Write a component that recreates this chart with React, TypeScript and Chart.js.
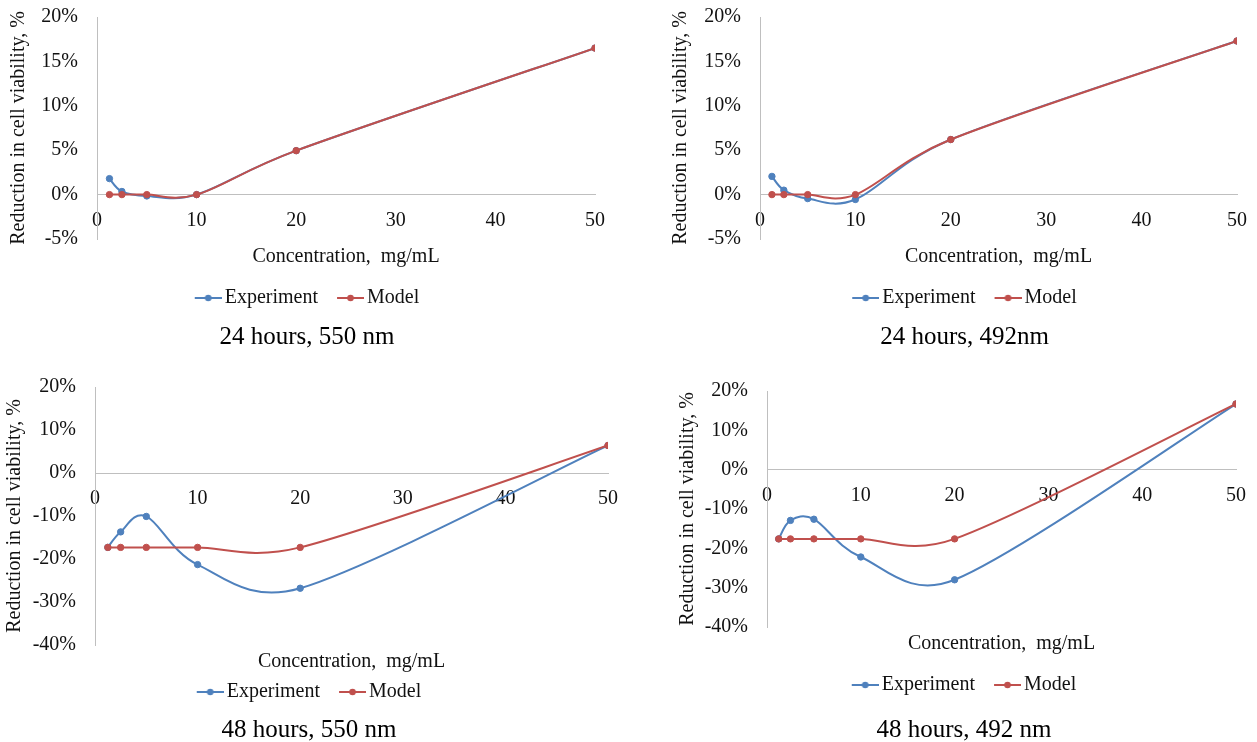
import React, { useEffect, useRef } from 'react';
import { Chart, registerables } from 'chart.js';

Chart.register(...registerables);

// Concentrations tested, mg/mL
const concentrations = [1.25, 2.5, 5, 10, 20, 50];

// Reduction in cell viability, %
const experiment24h550 = [1.8, 0.35, -0.15, 0, 4.95, 16.5];
const model24h550 = [0, 0, 0, 0, 4.95, 16.5];
const experiment24h492 = [2.05, 0.5, -0.45, -0.55, 6.2, 17.3];
const model24h492 = [0, 0, 0, 0, 6.2, 17.3];
const experiment48h550 = [-17.3, -13.7, -10.1, -21.3, -26.8, 6.4];
const model48h550 = [-17.3, -17.3, -17.3, -17.3, -17.3, 6.4];
const experiment48h492 = [-17.6, -12.9, -12.6, -22.2, -28.0, 16.7];
const model48h492 = [-17.6, -17.6, -17.6, -17.6, -17.6, 16.7];

// Axis ticks
const xTicks = [0, 10, 20, 30, 40, 50];
const yTicks24h = [-5, 0, 5, 10, 15, 20];
const yTicks48h = [-40, -30, -20, -10, 0, 10, 20];

const seriesNames = ['Experiment', 'Model'];
const xAxisTitle = 'Concentration,  mg/mL';
const yAxisTitle = 'Reduction in cell viability, %';
const captions = ['24 hours, 550 nm', '24 hours, 492nm', '48 hours, 550 nm', '48 hours, 492 nm'];

const SERIF = "'Liberation Serif', 'Times New Roman', serif";
const TEXT = '#111111';
const AXIS = '#bfbfbf';
const BLUE = '#4F81BD';
const RED = '#C0504D';

type Box = { pt: number; pb: number };
type PanelLayout = {
  canvas: { x: number; y: number; w: number; h: number };
  area: { l: number; t: number };
  yTitleX: number;
  sub: Box;
  caption: Box;
};

// Canvas boxes may reach slightly past the page edges; the frame clips them.
// The right edge of each plot sits 24px inside its canvas (room for the last x label).
const layouts: PanelLayout[] = [
  { canvas: { x: -5, y: -14, w: 624, h: 366 }, area: { l: 97, t: 15 }, yTitleX: 19, sub: { pt: 6, pb: 0 }, caption: { pt: 4, pb: 0 } },
  { canvas: { x: 668, y: -14, w: 593, h: 366 }, area: { l: 760, t: 15 }, yTitleX: 681, sub: { pt: 6, pb: 0 }, caption: { pt: 4, pb: 0 } },
  { canvas: { x: -14, y: 350, w: 646, h: 395 }, area: { l: 95, t: 387 }, yTitleX: 15, sub: { pt: 5, pb: -11 }, caption: { pt: 3, pb: 0 } },
  { canvas: { x: 668, y: 350, w: 592, h: 395 }, area: { l: 767, t: 391 }, yTitleX: 688, sub: { pt: 5, pb: 0 }, caption: { pt: 10, pb: 0 } },
];

const panels = [
  { experiment: experiment24h550, model: model24h550, yTicks: yTicks24h, caption: captions[0] },
  { experiment: experiment24h492, model: model24h492, yTicks: yTicks24h, caption: captions[1] },
  { experiment: experiment48h550, model: model48h550, yTicks: yTicks48h, caption: captions[2] },
  { experiment: experiment48h492, model: model48h492, yTicks: yTicks48h, caption: captions[3] },
];

// Legend marker: a short line with a dot, on the right part of a 34px image
function legendMarker(color: string): HTMLCanvasElement {
  const c = document.createElement('canvas');
  c.width = 34;
  c.height = 10;
  const ctx = c.getContext('2d')!;
  ctx.strokeStyle = color;
  ctx.lineWidth = 2;
  ctx.beginPath();
  ctx.moveTo(7, 5);
  ctx.lineTo(34, 5);
  ctx.stroke();
  ctx.fillStyle = color;
  ctx.beginPath();
  ctx.arc(20.5, 5, 3.3, 0, Math.PI * 2);
  ctx.fill();
  return c;
}

// Spreadsheet-style smoothed line: Bezier handles of 1/6 of the neighbour chord,
// capped at half the segment length.
const smoothLines = {
  id: 'smoothLines',
  beforeDatasetDraw(chart: any, args: any) {
    const meta = chart.getDatasetMeta(args.index);
    const pts = meta.data as any[];
    const n = pts.length;
    if (n < 2) return;
    for (let i = 0; i < n - 1; i++) {
      const p0 = pts[Math.max(i - 1, 0)];
      const p1 = pts[i];
      const p2 = pts[i + 1];
      const p3 = pts[Math.min(i + 2, n - 1)];
      const d02 = Math.hypot(p2.x - p0.x, p2.y - p0.y);
      const d12 = Math.hypot(p2.x - p1.x, p2.y - p1.y);
      const d13 = Math.hypot(p3.x - p1.x, p3.y - p1.y);
      const f0 = d02 > 0 ? Math.min(1 / 6, d12 / (2 * d02)) : 0;
      const f1 = d13 > 0 ? Math.min(1 / 6, d12 / (2 * d13)) : 0;
      p1.cp2x = p1.x + (p2.x - p0.x) * f0;
      p1.cp2y = p1.y + (p2.y - p0.y) * f0;
      p2.cp1x = p2.x - (p3.x - p1.x) * f1;
      p2.cp1y = p2.y - (p3.y - p1.y) * f1;
    }
    pts[0].cp1x = pts[0].x;
    pts[0].cp1y = pts[0].y;
    pts[n - 1].cp2x = pts[n - 1].x;
    pts[n - 1].cp2y = pts[n - 1].y;
    meta.dataset._pointsUpdated = true;
  },
};

function series(label: string, values: number[], color: string, order: number) {
  return {
    label,
    order,
    data: concentrations.map((x, i) => ({ x, y: values[i] })),
    borderColor: color,
    backgroundColor: color,
    pointBackgroundColor: color,
    pointBorderColor: color,
    borderWidth: 2,
    pointRadius: 3.2,
    pointBorderWidth: 1,
    tension: 0.4,
    fill: false,
  };
}

function Panel({ index }: { index: number }) {
  const ref = useRef<HTMLCanvasElement>(null);
  const lay = layouts[index];
  const p = panels[index];

  useEffect(() => {
    const canvas = ref.current!;
    const yWidth = lay.area.l - lay.canvas.x;
    const padTop = lay.area.t - lay.canvas.y;
    const markers = [legendMarker(BLUE), legendMarker(RED)];
    const font = { family: SERIF, size: 20 };

    const chart = new Chart(canvas, {
      type: 'line',
      data: {
        datasets: [
          // Model is drawn over Experiment
          series(seriesNames[0], p.experiment, BLUE, 1),
          series(seriesNames[1], p.model, RED, 0),
        ],
      },
      options: {
        responsive: false,
        animation: false,
        devicePixelRatio: 1,
        layout: { padding: { left: 0, right: 0, top: padTop, bottom: 0 } },
        scales: {
          x: {
            type: 'linear',
            min: xTicks[0],
            max: xTicks[xTicks.length - 1],
            position: { y: 0 } as any,
            grid: { display: false, drawTicks: false },
            border: { display: true, color: AXIS, width: 1 },
            ticks: { font, color: TEXT, padding: 14, autoSkip: false, maxRotation: 0 },
            afterBuildTicks: (s: any) => {
              s.ticks = xTicks.map((v) => ({ value: v }));
            },
          },
          y: {
            type: 'linear',
            position: 'left',
            min: p.yTicks[0],
            max: p.yTicks[p.yTicks.length - 1],
            grid: { display: false, drawTicks: false },
            border: { display: true, color: AXIS, width: 1 },
            ticks: {
              font,
              color: TEXT,
              padding: 19,
              callback: (v: any) => `${v}%`,
            },
            title: {
              display: true,
              text: yAxisTitle,
              font,
              color: TEXT,
              padding: { top: lay.yTitleX - lay.canvas.x - 12, bottom: 0 },
            },
            afterBuildTicks: (s: any) => {
              s.ticks = p.yTicks.map((v) => ({ value: v }));
            },
            afterFit: (s: any) => {
              s.width = yWidth;
            },
          },
        },
        plugins: {
          legend: {
            position: 'bottom',
            weight: 1000,
            labels: {
              usePointStyle: true,
              pointStyleWidth: 20,
              padding: 19,
              font,
              color: TEXT,
              sort: (a: any, b: any) => a.datasetIndex - b.datasetIndex,
              generateLabels: (c: any) =>
                Chart.defaults.plugins.legend.labels.generateLabels(c).map((item: any) => ({
                  ...item,
                  pointStyle: markers[item.datasetIndex],
                })),
            },
          } as any,
          subtitle: {
            display: true,
            position: 'bottom',
            fullSize: false,
            weight: 500,
            text: xAxisTitle,
            font,
            color: TEXT,
            padding: { top: lay.sub.pt, bottom: lay.sub.pb },
          } as any,
          title: {
            display: true,
            position: 'bottom',
            weight: 2000,
            text: p.caption,
            font: { family: SERIF, size: 25, weight: 'normal' },
            color: '#000000',
            padding: { top: lay.caption.pt, bottom: lay.caption.pb },
          } as any,
          tooltip: { enabled: false },
        },
      } as any,
      plugins: [smoothLines],
    });
    return () => chart.destroy();
  }, []);

  return (
    <canvas
      ref={ref}
      width={lay.canvas.w}
      height={lay.canvas.h}
      style={{
        position: 'absolute',
        left: lay.canvas.x,
        top: lay.canvas.y,
        width: lay.canvas.w,
        height: lay.canvas.h,
      }}
    />
  );
}

export default function App() {
  return (
    <div
      style={{
        position: 'absolute',
        left: 0,
        top: 0,
        width: 1257,
        height: 742,
        overflow: 'hidden',
        background: '#ffffff',
      }}
    >
      {panels.map((_, i) => (
        <Panel key={i} index={i} />
      ))}
    </div>
  );
}
